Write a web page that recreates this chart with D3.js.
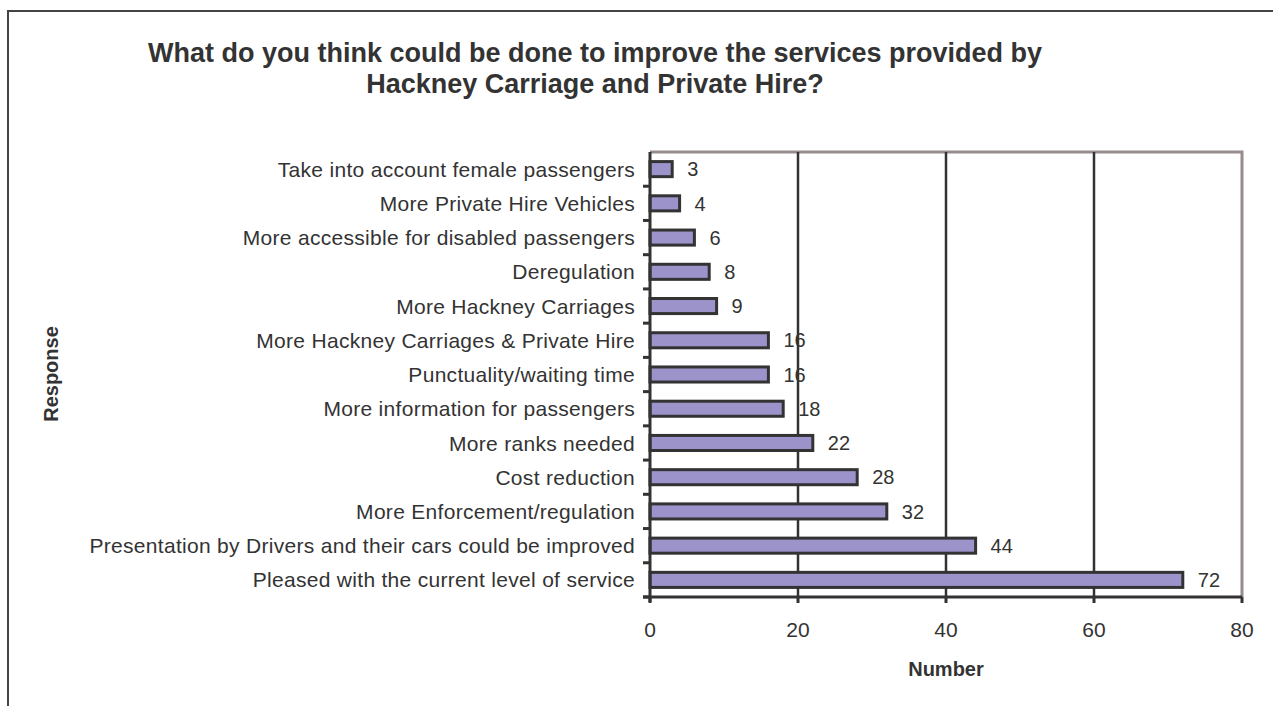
<!DOCTYPE html>
<html>
<head>
<meta charset="utf-8">
<script src="https://cdn.jsdelivr.net/npm/d3@7/dist/d3.min.js"></script>
<style>
  html, body { margin: 0; padding: 0; background: #fff; }
  svg { display: block; font-family: "Liberation Sans", Arial, sans-serif; }
</style>
</head>
<body>
<svg id="chart" width="1273" height="706"></svg>
<script>
const categories = [
  "Take into account female passengers",
  "More Private Hire Vehicles",
  "More accessible for disabled passengers",
  "Deregulation",
  "More Hackney Carriages",
  "More Hackney Carriages & Private Hire",
  "Punctuality/waiting time",
  "More information for passengers",
  "More ranks needed",
  "Cost reduction",
  "More Enforcement/regulation",
  "Presentation by Drivers and their cars could be improved",
  "Pleased with the current level of service"
];
const values = [3, 4, 6, 8, 9, 16, 16, 18, 22, 28, 32, 44, 72];
const xTicks = [0, 20, 40, 60, 80];
const titleLines = [
  "What do you think could be done to improve the services provided by",
  "Hackney Carriage and Private Hire?"
];
const xTitle = "Number";
const yTitle = "Response";

const svg = d3.select("#chart");
const W = 1273, H = 706;
const m = { left: 650, right: 1242, top: 152, bottom: 597 };
const textColor = "#333";

// outer frame
svg.append("rect").attr("x", 8).attr("y", 11).attr("width", W + 20).attr("height", H + 20)
  .attr("fill", "#fff").attr("stroke", "#444").attr("stroke-width", 2);

const x = d3.scaleLinear().domain([0, 80]).range([m.left, m.right]);
const y = d3.scaleBand().domain(categories).range([m.top, m.bottom]).paddingInner(0.56).paddingOuter(0.28);
const yb = d3.scaleBand().domain(categories).range([m.top, m.bottom]);

// plot border top/right (greyish brown)
svg.append("path")
  .attr("d", `M${m.left},${m.top}H${m.right}V${m.bottom}`)
  .attr("fill", "none").attr("stroke", "#978b8b").attr("stroke-width", 3);

// gridlines
svg.append("g").selectAll("line").data(xTicks.filter(d => d > 0 && d < 80)).join("line")
  .attr("x1", d => x(d)).attr("x2", d => x(d))
  .attr("y1", m.top).attr("y2", m.bottom)
  .attr("stroke", "#333").attr("stroke-width", 2.5);

// bars
svg.append("g").selectAll("rect").data(categories).join("rect")
  .attr("x", x(0))
  .attr("y", d => y(d))
  .attr("width", (d, i) => x(values[i]) - x(0))
  .attr("height", y.bandwidth())
  .attr("fill", "#9b93c9")
  .attr("stroke", "#333").attr("stroke-width", 3);

// value labels
svg.append("g").selectAll("text").data(categories).join("text")
  .attr("x", (d, i) => x(values[i]) + 15)
  .attr("y", d => y(d) + y.bandwidth() / 2)
  .attr("dy", "0.36em")
  .attr("font-size", 20).attr("fill", textColor)
  .text((d, i) => values[i]);

// y axis
const yAxis = svg.append("g").attr("transform", `translate(${m.left},0)`);
yAxis.append("line").attr("x1", 0).attr("x2", 0).attr("y1", m.top).attr("y2", m.bottom + 5)
  .attr("stroke", "#333").attr("stroke-width", 3);
yAxis.selectAll("line.tick").data(categories.slice(1).concat(["__end"])).join("line")
  .attr("class", "tick")
  .attr("x1", -7).attr("x2", 0)
  .attr("y1", d => d === "__end" ? m.bottom : yb(d))
  .attr("y2", d => d === "__end" ? m.bottom : yb(d))
  .attr("stroke", "#333").attr("stroke-width", 3);
yAxis.selectAll("text").data(categories).join("text")
  .attr("x", -15)
  .attr("y", d => y(d) + y.bandwidth() / 2)
  .attr("dy", "0.36em")
  .attr("text-anchor", "end")
  .attr("font-size", 21).attr("letter-spacing", 0.3).attr("fill", textColor)
  .text(d => d);

// x axis
const xAxis = svg.append("g");
xAxis.append("line").attr("x1", m.left - 7).attr("x2", m.right).attr("y1", m.bottom).attr("y2", m.bottom)
  .attr("stroke", "#333").attr("stroke-width", 3);
xAxis.selectAll("line.tick").data(xTicks).join("line")
  .attr("class", "tick")
  .attr("x1", d => x(d)).attr("x2", d => x(d))
  .attr("y1", m.bottom).attr("y2", m.bottom + 6)
  .attr("stroke", "#333").attr("stroke-width", 3);
xAxis.selectAll("text").data(xTicks).join("text")
  .attr("x", d => x(d)).attr("y", 637)
  .attr("text-anchor", "middle")
  .attr("font-size", 21).attr("fill", textColor)
  .text(d => d);

// axis titles
svg.append("text").attr("x", x(40)).attr("y", 676)
  .attr("text-anchor", "middle").attr("font-size", 20).attr("font-weight", "bold")
  .attr("fill", textColor).text(xTitle);
svg.append("text").attr("transform", "translate(58,374) rotate(-90)")
  .attr("text-anchor", "middle").attr("font-size", 20).attr("font-weight", "bold")
  .attr("fill", textColor).text(yTitle);

// title
svg.append("g").selectAll("text").data(titleLines).join("text")
  .attr("x", 595).attr("y", (d, i) => 62 + i * 31)
  .attr("text-anchor", "middle").attr("font-size", 27).attr("font-weight", "bold")
  .attr("fill", textColor).text(d => d);
</script>
</body>
</html>
